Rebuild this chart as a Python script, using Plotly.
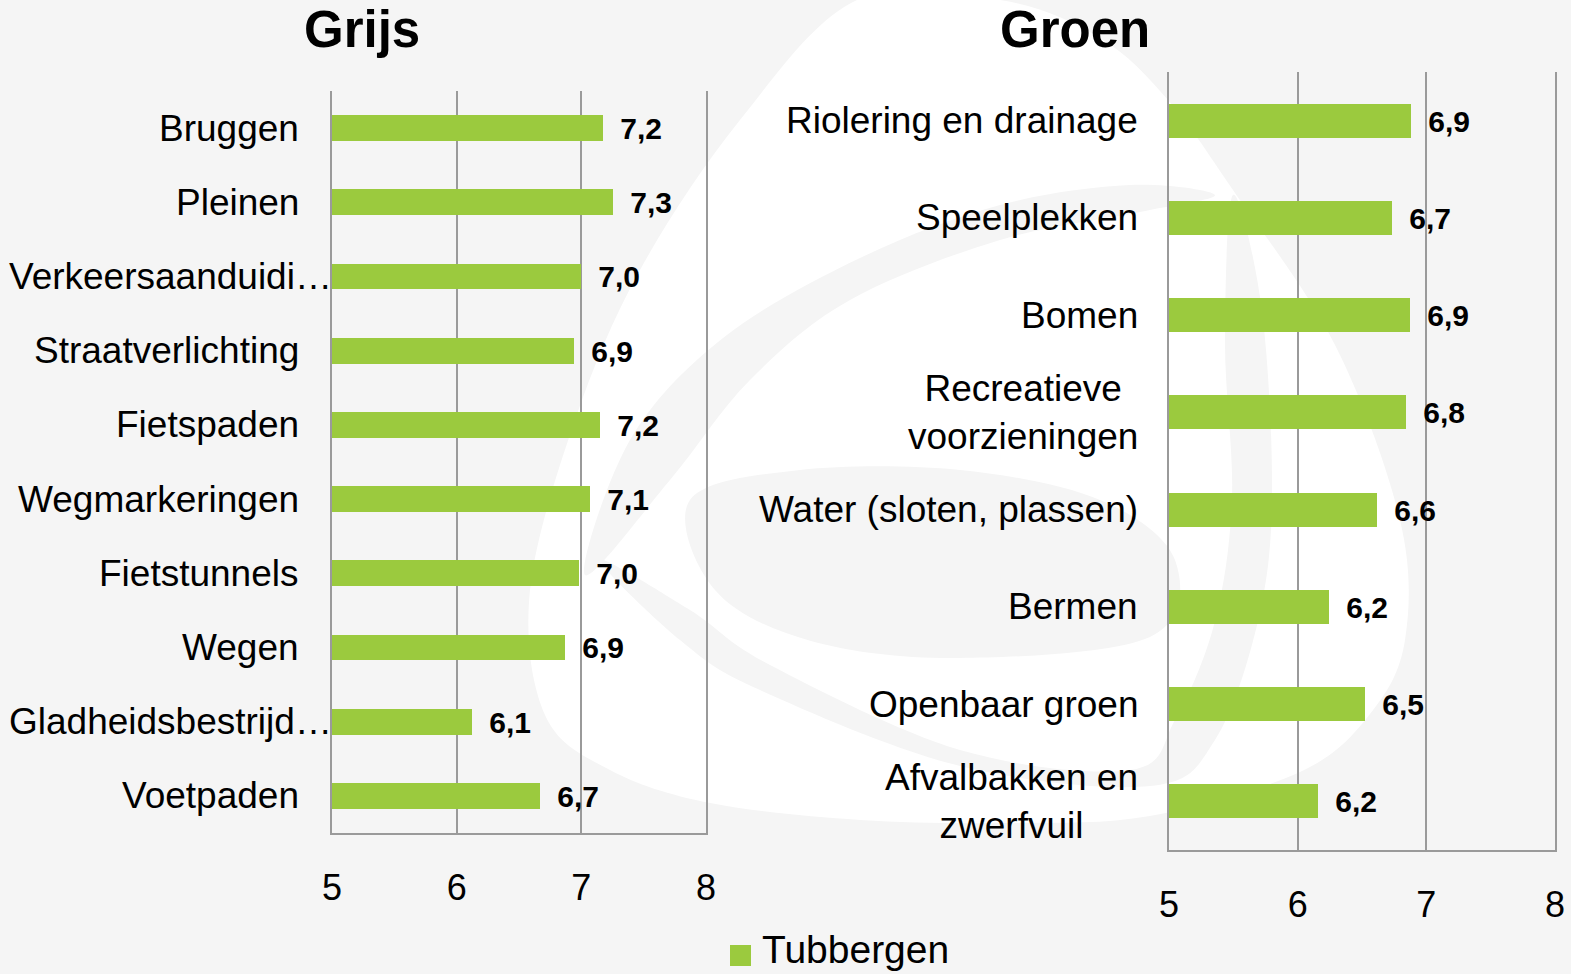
import plotly.graph_objects as go

# ---------- data ----------
grijs_categories = ["Bruggen", "Pleinen", "Verkeersaanduidi…", "Straatverlichting", "Fietspaden",
                    "Wegmarkeringen", "Fietstunnels", "Wegen", "Gladheidsbestrijd…", "Voetpaden"]
grijs_values = [7.17, 7.25, 7.0, 6.94, 7.15, 7.07, 6.98, 6.87, 6.12, 6.67]

groen_categories = ["Riolering en drainage", "Speelplekken", "Bomen", "Recreatieve<br>voorzieningen",
                    "Water (sloten, plassen)", "Bermen", "Openbaar groen", "Afvalbakken en<br>zwerfvuil"]
groen_values = [6.88, 6.73, 6.87, 6.84, 6.62, 6.24, 6.52, 6.16]

x_ticks = [5, 6, 7, 8]
series_name = "Tubbergen"
titles = ["Grijs", "Groen"]

# ---------- style ----------
W, H = 1571, 974
BG = "#f5f5f5"
GREEN = "#9bca3e"
GRID = "#9a9a9a"
FONT = "Arial, Liberation Sans, sans-serif"
GAP = "\u00a0\u2009"


def px_x(p):
    return p / W


def px_y(p):
    return 1 - p / H


def smooth_path(points, closed=True):
    """Catmull-Rom spline through pixel points -> SVG path in paper coords."""
    pts = [(px_x(x), px_y(y)) for x, y in points]
    n = len(pts)
    d = "M {:.5f},{:.5f}".format(*pts[0])
    rng = range(n) if closed else range(n - 1)
    for i in rng:
        p0 = pts[(i - 1) % n] if (closed or i > 0) else pts[i]
        p1 = pts[i]
        p2 = pts[(i + 1) % n]
        p3 = pts[(i + 2) % n] if (closed or i + 2 < n) else p2
        c1 = (p1[0] + (p2[0] - p0[0]) / 6, p1[1] + (p2[1] - p0[1]) / 6)
        c2 = (p2[0] - (p3[0] - p1[0]) / 6, p2[1] - (p3[1] - p1[1]) / 6)
        d += " C {:.5f},{:.5f} {:.5f},{:.5f} {:.5f},{:.5f}".format(c1[0], c1[1], c2[0], c2[1], p2[0], p2[1])
    if closed:
        d += " Z"
    return d


fig = go.Figure()

fig.add_trace(go.Bar(
    y=grijs_categories, x=grijs_values, orientation="h",
    marker=dict(color=GREEN, line=dict(width=0)), width=0.35,
    name=series_name, showlegend=False,
    texttemplate=GAP + "%{x:.1f}", textposition="outside", cliponaxis=False, constraintext="none",
    textfont=dict(family=FONT, size=30, color="#000000", weight="bold"),
    xaxis="x", yaxis="y",
))
fig.add_trace(go.Bar(
    y=groen_categories, x=groen_values, orientation="h",
    marker=dict(color=GREEN, line=dict(width=0)), width=0.35,
    name=series_name, showlegend=False,
    texttemplate=GAP + "%{x:.1f}", textposition="outside", cliponaxis=False, constraintext="none",
    textfont=dict(family=FONT, size=30, color="#000000", weight="bold"),
    xaxis="x2", yaxis="y2",
))

xaxis_common = dict(
    range=[5, 8], tickvals=x_ticks, showgrid=True, gridcolor=GRID, gridwidth=2,
    showline=True, linecolor=GRID, linewidth=2, zeroline=False, automargin=False,
    ticks="outside", ticklen=22, tickcolor="rgba(0,0,0,0)",
    tickfont=dict(family=FONT, size=36, color="#000000"), fixedrange=True,
)
yaxis_common = dict(
    showticklabels=False, showgrid=False, showline=True, mirror=True, linecolor=GRID, linewidth=2,
    zeroline=False, ticks="", fixedrange=True, automargin=False,
)

fig.update_layout(
    width=W, height=H,
    paper_bgcolor=BG, plot_bgcolor="rgba(0,0,0,0)",
    margin=dict(l=0, r=0, t=0, b=0, autoexpand=False),
    separators=",.",
    font=dict(family=FONT, color="#000000"),
    bargap=0,
    showlegend=False,
    xaxis=dict(domain=[px_x(332), px_x(706)], anchor="y", **xaxis_common),
    yaxis=dict(domain=[px_y(833), px_y(91)], anchor="x",
               categoryorder="array", categoryarray=grijs_categories,
               range=[len(grijs_categories) - 0.5, -0.5], **yaxis_common),
    xaxis2=dict(domain=[px_x(1169), px_x(1555)], anchor="y2", **xaxis_common),
    yaxis2=dict(domain=[px_y(850), px_y(72)], anchor="x2",
                categoryorder="array", categoryarray=groen_categories,
                range=[len(groen_categories) - 0.5, -0.5], **yaxis_common),
)

# ---------- faint background swirl (decoration) ----------
swirl_white = [
    (857, 0), (740, 120), (640, 270), (575, 420), (530, 590), (545, 715), (610, 770),
    (710, 803), (860, 820), (1010, 823), (1150, 816), (1300, 772), (1370, 714),
    (1405, 640), (1400, 520), (1335, 345), (1233, 190), (1168, 100), (1100, 38), (1000, 0),
]
swirl_gray_arm = [
    (585, 575), (630, 440), (723, 338), (860, 258), (1000, 205), (1130, 185), (1215, 195),
    (1140, 212), (1000, 240), (850, 300), (750, 380), (670, 480),
]
swirl_gray_eye = [
    (690, 500), (800, 470), (960, 470), (1100, 500), (1175, 560), (1150, 637),
    (960, 658), (811, 641), (715, 590),
]
swirl_gray_gap = [
    (600, 560), (680, 640), (760, 690), (960, 766), (1150, 786), (1215, 740), (1258, 621),
    (1272, 497), (1262, 311), (1233, 195), (1225, 342), (1232, 497), (1215, 621),
    (1175, 720), (1130, 770), (960, 750), (770, 665), (690, 610),
]

shapes = [
    dict(type="path", path=smooth_path(swirl_white), xref="paper", yref="paper",
         fillcolor="#ffffff", line=dict(width=0), layer="below"),
    dict(type="path", path=smooth_path(swirl_gray_arm), xref="paper", yref="paper",
         fillcolor=BG, line=dict(width=0), layer="below"),
    dict(type="path", path=smooth_path(swirl_gray_eye), xref="paper", yref="paper",
         fillcolor=BG, line=dict(width=0), layer="below"),
    dict(type="path", path=smooth_path(swirl_gray_gap), xref="paper", yref="paper",
         fillcolor=BG, line=dict(width=0), layer="below"),
    # legend symbol
    dict(type="rect", x0=px_x(730), x1=px_x(751), y0=px_y(966), y1=px_y(945), xref="paper", yref="paper",
         fillcolor=GREEN, line=dict(width=0), layer="above"),
]
fig.update_layout(shapes=shapes)

annotations = []
# Titles
for t, cx in zip(titles, [362, 1075]):
    annotations.append(dict(text="<b>" + t + "</b>", x=px_x(cx), y=px_y(30), xref="paper", yref="paper",
                            xanchor="center", yanchor="middle", showarrow=False,
                            font=dict(family=FONT, size=51, color="#000000")))

# Category labels (Excel style: truncated labels run up to the axis)
for c in grijs_categories:
    right = 334 if c.endswith("…") else 301
    annotations.append(dict(text=c, x=px_x(right), y=c, xref="paper", yref="y",
                            xanchor="right", yanchor="middle", showarrow=False, align="right",
                            font=dict(family=FONT, size=37, color="#000000")))
for c in groen_categories:
    annotations.append(dict(text=c, x=px_x(1140), y=c, xref="paper", yref="y2",
                            xanchor="right", yanchor="middle", showarrow=False, align="center",
                            font=dict(family=FONT, size=37, color="#000000")))

# legend text (kept fully inside the page)
annotations.append(dict(text=series_name, x=px_x(760), y=px_y(973), xref="paper", yref="paper",
                        xanchor="left", yanchor="bottom", showarrow=False,
                        font=dict(family=FONT, size=39, color="#000000")))

fig.update_layout(annotations=annotations)

fig.write_html("out.html", config={"displayModeBar": False},
               post_script="document.body.style.margin='0';document.body.style.background='#f5f5f5';"
                           "document.documentElement.style.overflow='hidden';")
